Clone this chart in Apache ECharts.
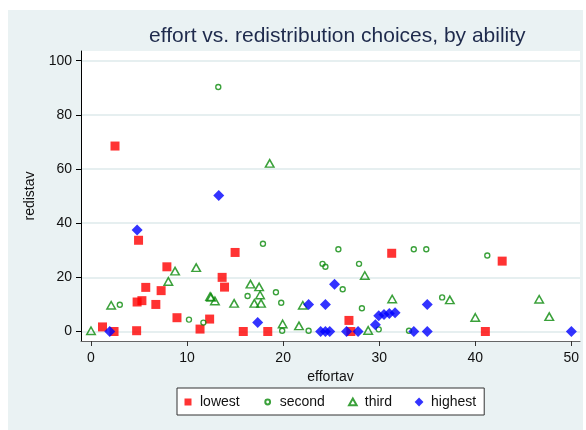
<!DOCTYPE html>
<html><head><meta charset="utf-8">
<script src="https://cdn.jsdelivr.net/npm/echarts@6/dist/echarts.min.js"></script>
<style>html,body{margin:0;padding:0;background:#fff}#c{width:586px;height:430px}</style>
</head><body><div id="c"></div>
<script>
const titleText = 'effort vs. redistribution choices, by ability';
const xTicks = [0, 10, 20, 30, 40, 50];
const yTicks = [0, 20, 40, 60, 80, 100];
const lowest = [[1.2,1.7],[2.4,0],[2.5,68.5],[4.75,0.3],[4.8,10.9],[5.3,11.4],[4.95,33.7],[5.7,16.3],[6.75,10],[7.3,15.1],[7.9,23.9],[8.95,5.1],[11.35,0.9],[12.35,4.6],[13.65,20],[13.9,16.4],[15.0,29.2],[15.85,0],[18.4,0],[26.85,4.1],[27.05,0],[31.3,28.9],[42.8,26],[41.05,0]];
const second = [[13.25,90.3],[3.0,9.9],[10.2,4.4],[11.7,3.3],[16.3,13.1],[17.9,32.4],[19.25,14.5],[19.8,10.6],[19.9,0.3],[22.65,0.3],[24.1,25],[24.4,23.9],[25.75,30.4],[26.2,15.6],[27.9,25],[28.2,8.6],[29.95,0.8],[33.1,0.3],[33.6,30.4],[34.9,30.4],[36.55,12.6],[41.25,28.1]];
const third = [[18.6,62.1],[0,0.3],[2.1,9.7],[8.05,18.5],[8.75,22.3],[10.95,23.6],[12.4,12.9],[12.5,12.6],[12.9,11.3],[14.9,10.4],[16.6,17.5],[17.5,16.5],[17.6,13.5],[17.0,10.4],[17.7,10.4],[22.05,9.7],[19.95,2.8],[21.65,2.1],[28.5,20.7],[28.85,0.4],[31.35,12],[37.35,11.7],[40.0,5.2],[46.65,11.9],[47.7,5.5]];
const highest = [[1.95,0],[4.8,37.5],[13.3,50.2],[17.35,3.3],[22.65,10],[23.9,0],[24.4,0],[24.85,0],[24.4,10],[25.35,17.5],[26.6,0],[27.8,0],[29.6,2.5],[29.95,5.8],[30.5,6.3],[31.05,6.7],[31.65,6.9],[33.6,0],[35.0,0],[35.0,10],[50,0]];

const font = '"Liberation Sans", Arial, sans-serif';
const green = '#0a8a0a';
const icons = {
  lowest: 'path://M0,0M10,10M1.5,1.5L8.5,1.5L8.5,8.5L1.5,8.5Z',
  second: 'path://M0,0M10,10M7.4,5A2.4,2.4,0,1,1,2.6,5A2.4,2.4,0,1,1,7.4,5Z',
  third: 'path://M0,0M10,10M5,1.6L8.8,8.2L1.2,8.2Z',
  highest: 'path://M0,0M10,10M5,0.6L9.4,5L5,9.4L0.6,5Z'
};
const chart = echarts.init(document.getElementById('c'), null, {renderer: 'canvas'});
chart.setOption({
  backgroundColor: '#ffffff',
  animation: false,
  graphic: [{type: 'rect', z: -10, silent: true, shape: {x: 8, y: 10, width: 575, height: 420}, style: {fill: '#eaf2f3'}}],
  title: {text: titleText, left: 149, top: 26, padding: 0,
    textStyle: {fontFamily: font, fontSize: 21, fontWeight: 'normal', color: '#1e2a4c'}},
  grid: {left: 81, right: 6, top: 51, bottom: 89, show: true, backgroundColor: '#ffffff', borderWidth: 0},
  legend: {left: 177, top: 388, padding: [7, 8, 6, 6], backgroundColor: '#ffffff', borderColor: '#333', borderWidth: 1,
    itemWidth: 10, itemHeight: 10, itemGap: 22,
    textStyle: {fontFamily: font, fontSize: 14, color: '#111', padding: [0, 0, 0, 2]},
    data: ['lowest', 'second', 'third', 'highest'].map(n => ({name: n, icon: icons[n]}))},
  xAxis: {type: 'value', min: -1.04, max: 50.9, name: 'effortav', nameLocation: 'middle', nameGap: 22,
    nameTextStyle: {fontFamily: font, fontSize: 14, color: '#111'},
    axisLine: {show: true, onZero: false, lineStyle: {color: '#666', width: 1}},
    axisTick: {show: true, length: 5, customValues: xTicks, lineStyle: {color: '#333'}},
    axisLabel: {customValues: xTicks, margin: 10, fontFamily: font, fontSize: 14, color: '#111'},
    splitLine: {show: false}},
  yAxis: {type: 'value', min: -3.5, max: 103.6, name: 'redistav', nameLocation: 'middle', nameGap: 44,
    nameTextStyle: {fontFamily: font, fontSize: 14, color: '#111'},
    axisLine: {show: true, onZero: false, lineStyle: {color: '#000', width: 1}},
    axisTick: {show: true, length: 5, customValues: yTicks, lineStyle: {color: '#000'}},
    axisLabel: {customValues: yTicks, margin: 9, fontFamily: font, fontSize: 14, color: '#111'},
    splitLine: {show: true, lineStyle: {color: '#e6eff0', width: 2}}},
  series: [
    {name: 'lowest', type: 'scatter', data: lowest, symbol: 'rect', symbolSize: 9, itemStyle: {color: '#ff0000'}},
    {name: 'second', type: 'scatter', data: second, symbol: 'circle', symbolSize: 5,
      itemStyle: {color: 'rgba(0,0,0,0)', borderColor: green, borderWidth: 1.4}},
    {name: 'third', type: 'scatter', data: third, symbol: 'triangle', symbolSize: [8.5, 7.5],
      itemStyle: {color: 'rgba(0,0,0,0)', borderColor: green, borderWidth: 1.5}},
    {name: 'highest', type: 'scatter', data: highest, symbol: 'diamond', symbolSize: [11, 11], itemStyle: {color: '#0000ff'}}
  ]
});
</script></body></html>
